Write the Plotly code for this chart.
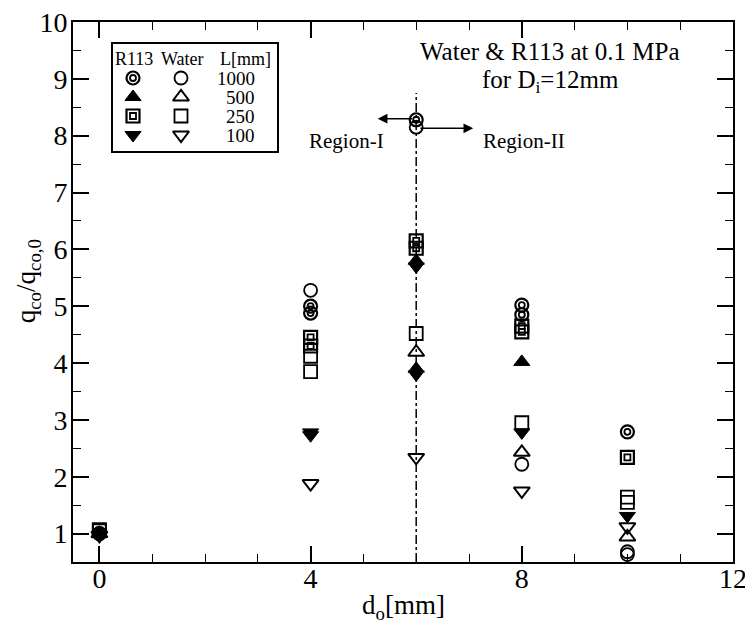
import plotly.graph_objects as go

# ---- data (d_o [mm], q_co/q_co,0) ----
x_r113_1000 = [0, 4, 4, 6, 8, 8, 10]
y_r113_1000 = [1.0, 5.0, 4.88, 8.28, 5.02, 4.85, 2.79]
x_water_1000 = [0, 4, 6, 8, 10, 10]
y_water_1000 = [1.0, 5.28, 8.15, 2.22, 0.68, 0.63]
x_r113_500 = [0, 6, 6, 8]
y_r113_500 = [1.0, 5.8, 3.9, 4.02]
x_water_500 = [0, 6, 8, 10]
y_water_500 = [1.0, 4.19, 2.43, 0.94]
x_r113_250 = [0, 4, 4, 6, 6, 8, 8, 10]
y_r113_250 = [1.05, 4.45, 4.3, 6.15, 6.02, 4.65, 4.55, 2.34]
x_water_250 = [0, 4, 4, 6, 8, 10, 10]
y_water_250 = [1.07, 4.12, 3.85, 4.52, 2.95, 1.64, 1.55]
x_r113_100 = [0, 4, 4, 6, 6, 8, 10]
y_r113_100 = [0.97, 2.78, 2.73, 5.7, 3.8, 2.78, 1.31]
x_water_100 = [0, 4, 6, 8, 10]
y_water_100 = [0.97, 1.88, 2.34, 1.75, 1.12]

legend_lengths = ["1000", "500", "250", "100"]
x_ticks = [0, 4, 8, 12]
y_ticks = [1, 2, 3, 4, 5, 6, 7, 8, 9, 10]

FONT = "Liberation Serif, Times New Roman, serif"
BLACK = "black"

fig = go.Figure()

def add(x, y, symbol, size, lw=2, filled=False, xa="x", ya="y"):
    fig.add_trace(go.Scatter(
        x=x, y=y, mode="markers", showlegend=False, xaxis=xa, yaxis=ya,
        marker=dict(symbol=symbol, size=size,
                    color=BLACK if filled else "rgba(0,0,0,0)",
                    line=dict(color=BLACK, width=lw)),
        hoverinfo="skip"))

def add_series(kind, x, y, xa="x", ya="y"):
    if kind == "r1000":
        add(x, y, "circle", 13, 2.2, False, xa, ya)
        add(x, y, "circle", 6, 1.8, False, xa, ya)
    elif kind == "w1000":
        add(x, y, "circle", 13, 1.8, False, xa, ya)
    elif kind == "r500":
        add(x, y, "triangle-up", 14, 1, True, xa, ya)
    elif kind == "w500":
        add(x, y, "triangle-up", 14, 2, False, xa, ya)
    elif kind == "r250":
        add(x, y, "square", 13, 2.2, False, xa, ya)
        add(x, y, "square", 6, 1.8, False, xa, ya)
    elif kind == "w250":
        add(x, y, "square", 13, 1.8, False, xa, ya)
    elif kind == "r100":
        add(x, y, "triangle-down", 14, 1, True, xa, ya)
    elif kind == "w100":
        add(x, y, "triangle-down", 14, 2, False, xa, ya)

add_series("w1000", x_water_1000, y_water_1000)
add_series("r500", x_r113_500, y_r113_500)
add_series("w500", x_water_500, y_water_500)
add_series("w250", x_water_250, y_water_250)
add_series("r250", x_r113_250, y_r113_250)
add_series("r100", x_r113_100, y_r113_100)
add_series("w100", x_water_100, y_water_100)
add_series("r1000", x_r113_1000, y_r113_1000)

# ---- legend (overlay axes in pixel-like units) ----
leg_rows_y = [78, 97, 116, 135]
leg_kinds = [("r1000", "w1000"), ("r500", "w500"), ("r250", "w250"), ("r100", "w100")]
for (rk, wk), py in zip(leg_kinds, leg_rows_y):
    add_series(rk, [133], [py], "x2", "y2")
    add_series(wk, [181], [py], "x2", "y2")

annotations = []
for lab, py in zip(legend_lengths, leg_rows_y):
    annotations.append(dict(x=257, y=py, xref="x2", yref="y2", text=lab,
                            showarrow=False, xanchor="right", yanchor="middle",
                            font=dict(family=FONT, size=19, color=BLACK)))
for txt, px in [("R113", 134), ("Water", 182), ("L[mm]", 245)]:
    annotations.append(dict(x=px, y=59, xref="x2", yref="y2", text=txt,
                            showarrow=False, xanchor="center", yanchor="middle",
                            font=dict(family=FONT, size=18, color=BLACK)))

# axis titles placed explicitly (paper coordinates)
annotations += [
    dict(x=0.5, y=-0.083, xref="paper", yref="paper", text="d<sub>o</sub>[mm]",
         showarrow=False, xanchor="center", yanchor="middle",
         font=dict(family=FONT, size=27, color=BLACK)),
    dict(x=-0.068, y=0.52, xref="paper", yref="paper", text="q<sub>co</sub>/q<sub>co,0</sub>",
         showarrow=False, textangle=-90, xanchor="center", yanchor="middle",
         font=dict(family=FONT, size=27, color=BLACK)),
]

# text annotations
annotations += [
    dict(x=8.54, y=9.48, xref="x", yref="y", text="Water &amp; R113 at 0.1 MPa",
         showarrow=False, font=dict(family=FONT, size=25, color=BLACK)),
    dict(x=8.54, y=8.95, xref="x", yref="y", text="for D<sub>i</sub>=12mm",
         showarrow=False, font=dict(family=FONT, size=25, color=BLACK)),
    dict(x=5.42, y=7.9, xref="x", yref="y", text="Region-I", xanchor="right",
         showarrow=False, font=dict(family=FONT, size=21, color=BLACK)),
    dict(x=7.22, y=7.9, xref="x", yref="y", text="Region-II", xanchor="left",
         showarrow=False, font=dict(family=FONT, size=21, color=BLACK)),
    dict(x=5.27, y=8.3, ax=5.95, ay=8.3, xref="x", yref="y", axref="x", ayref="y",
         text="", showarrow=True, arrowhead=2, arrowsize=1.3, arrowwidth=1.5,
         arrowcolor=BLACK),
    dict(x=7.08, y=8.13, ax=6.05, ay=8.13, xref="x", yref="y", axref="x", ayref="y",
         text="", showarrow=True, arrowhead=2, arrowsize=1.3, arrowwidth=1.5,
         arrowcolor=BLACK),
]

shapes = [
    dict(type="line", xref="x", yref="y", x0=6, x1=6, y0=0.5, y1=8.75,
         line=dict(color=BLACK, width=1.5, dash="dashdot"), layer="below"),
    dict(type="rect", xref="x2", yref="y2", x0=112, x1=278, y0=43, y1=152,
         line=dict(color=BLACK, width=2), fillcolor="rgba(0,0,0,0)"),
]

axis_common = dict(showline=True, linecolor=BLACK, linewidth=2, mirror="ticks",
                   ticks="inside", ticklen=16, tickwidth=1.5, tickcolor=BLACK,
                   showgrid=False, zeroline=False, automargin=False,
                   ticklabeloverflow="allow",
                   tickfont=dict(family=FONT, size=28, color=BLACK))

fig.update_layout(
    width=745, height=632, plot_bgcolor="white", paper_bgcolor="white",
    font=dict(family=FONT, color=BLACK),
    margin=dict(l=73, r=12, t=22, b=70, autoexpand=False),
    xaxis=dict(range=[-0.5, 12], tickvals=x_ticks, ticklabelstandoff=-10,
               minor=dict(dtick=1, ticks="inside", ticklen=8, tickcolor=BLACK, tickwidth=1.2),
               **axis_common),
    yaxis=dict(range=[0.5, 10], tickvals=y_ticks, ticklabelstandoff=-2,
               minor=dict(dtick=0.5, ticks="inside", ticklen=8, tickcolor=BLACK, tickwidth=1.2),
               **axis_common),
    xaxis2=dict(range=[73, 733], overlaying="x", visible=False, domain=[0, 1], anchor="y2"),
    yaxis2=dict(range=[562, 22], overlaying="y", visible=False, domain=[0, 1], anchor="x2"),
    annotations=annotations, shapes=shapes,
)

# remove the browser's default 8px body margin so the figure sits at the window origin
fig.write_html("out.html", config={"displayModeBar": False},
               post_script="document.body.style.margin='0';document.body.style.overflow='hidden';")
